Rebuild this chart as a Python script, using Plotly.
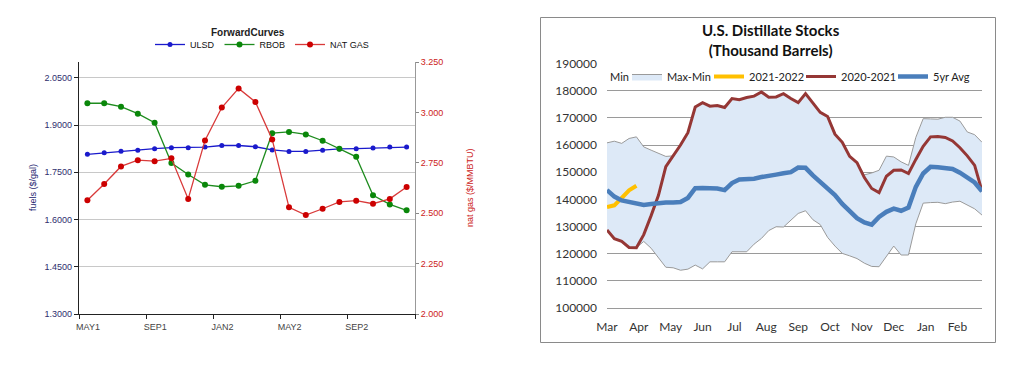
import plotly.graph_objects as go

W, H = 1029, 377
OFF = 8  # page body margin
def px(x): return (x - OFF) / W
def py(y): return 1 - (y - OFF) / H

# ---------------- Left chart data: Forward curves ----------------
months = ["MAY1", "JUN1", "JUL1", "AUG1", "SEP1", "OCT1", "NOV1", "DEC1",
          "JAN2", "FEB2", "MAR2", "APR2", "MAY2", "JUN2", "JUL2", "AUG2",
          "SEP2", "OCT2", "NOV2", "DEC2"]
ulsd = [1.807, 1.812, 1.817, 1.820, 1.825, 1.828, 1.828, 1.830, 1.835, 1.835,
        1.831, 1.821, 1.816, 1.816, 1.820, 1.824, 1.825, 1.827, 1.830, 1.830]
rbob = [1.969, 1.969, 1.958, 1.936, 1.907, 1.779, 1.743, 1.710, 1.704, 1.707,
        1.723, 1.874, 1.878, 1.870, 1.850, 1.825, 1.799, 1.677, 1.648, 1.629]
natgas = [2.564, 2.645, 2.732, 2.763, 2.758, 2.772, 2.571, 2.861, 3.024, 3.119,
          3.052, 2.866, 2.529, 2.491, 2.522, 2.556, 2.562, 2.547, 2.571, 2.630]
left_tick_every = 4

# ---------------- Right chart data: U.S. Distillate Stocks (weekly) ----------------
month_labels = ["Mar", "Apr", "May", "Jun", "Jul", "Aug", "Sep", "Oct", "Nov", "Dec", "Jan", "Feb"]
weeks = list(range(52))
stk_max = [160800, 161400, 160600, 162400, 163000, 159300, 158100, 156800, 155800, 156000,
           160000, 164500, 174000, 175600, 174300, 174500, 173800, 177100, 176700, 177500,
           178000, 179500, 177600, 177700, 178900, 177100, 175600, 178900, 175600, 172000,
           170500, 164000, 161000, 155800, 153500, 149000, 149700, 150700, 155900, 155600,
           153800, 152500, 162800, 169700, 169600, 169500, 170200, 170200, 168800, 164800,
           163800, 161000]
stk_min = [128700, 125500, 124500, 122300, 122200, 124500, 122000, 118700, 115000, 114800,
           113900, 114300, 115800, 114400, 117000, 117000, 117000, 120700, 120700, 120700,
           123500, 125600, 128500, 129900, 129800, 132200, 134800, 135800, 132500, 130700,
           126000, 122800, 120100, 119200, 118200, 116500, 115300, 115200, 119000, 122800,
           119500, 119500, 131000, 138600, 138800, 138900, 138400, 139000, 139300, 138000,
           136500, 134200]
stk_2021 = [128700, 125500, 124500, 122300, 122200, 127000, 134000, 141500, 152000, 156000,
            160000, 164500, 174000, 175600, 174300, 174500, 173800, 177100, 176700, 177500,
            178000, 179500, 177600, 177700, 178900, 177100, 175600, 178900, 175600, 172000,
            170500, 164000, 161000, 155800, 153500, 148000, 144000, 142500, 148500, 150700,
            150800, 149500, 154700, 159500, 163000, 163100, 162800, 161500, 159000, 156000,
            152500, 143000]
stk_avg = [143400, 141000, 139600, 138900, 138500, 137900, 138300, 138700, 138800, 138800,
           139000, 140500, 144100, 144200, 144300, 144000, 143400, 146000, 147300, 147300,
           147600, 148200, 148500, 149100, 149600, 150000, 151700, 151600, 148800, 146300,
           144200, 141600, 138300, 135400, 133100, 131500, 130700, 133500, 135400, 136600,
           135800, 137000, 144600, 149500, 152000, 151800, 151400, 151200, 149800, 148200,
           146200, 143000]
stk_2122 = [137200, 137800, 140500, 143300, 145000]

fig = go.Figure()

# ---------------- Left traces ----------------
xi = list(range(len(months)))
fig.add_trace(go.Scatter(x=xi, y=ulsd, name="ULSD", mode="lines+markers",
                         line=dict(color="#1a1acc", width=1.3),
                         marker=dict(color="#1a1acc", size=5), xaxis="x", yaxis="y",
                         legend="legend"))
fig.add_trace(go.Scatter(x=xi, y=rbob, name="RBOB", mode="lines+markers",
                         line=dict(color="#1e8c1e", width=1.3),
                         marker=dict(color="#0a870a", size=6), xaxis="x", yaxis="y",
                         legend="legend"))
fig.add_trace(go.Scatter(x=xi, y=natgas, name="NAT GAS", mode="lines+markers",
                         line=dict(color="#d93a3a", width=1.3),
                         marker=dict(color="#cc0000", size=6), xaxis="x", yaxis="y2",
                         legend="legend"))

# ---------------- Right traces (each legend entry positioned like the original) ----------------
fig.add_trace(go.Scatter(x=[None], y=[None], name="Min", mode="lines",
                         line=dict(color="rgba(0,0,0,0)", width=1),
                         xaxis="x2", yaxis="y3", legend="legend2"))
fig.add_trace(go.Scatter(x=weeks, y=stk_min, name="Min line", mode="lines",
                         line=dict(color="#9a9a9a", width=1), showlegend=False,
                         xaxis="x2", yaxis="y3"))
fig.add_trace(go.Scatter(x=weeks, y=stk_max, name="Max-Min", mode="lines",
                         line=dict(color="#9a9a9a", width=1), fill="tonexty",
                         fillcolor="#dde9f7", xaxis="x2", yaxis="y3", legend="legend3"))
fig.add_trace(go.Scatter(x=weeks[:len(stk_2122)], y=stk_2122, name="2021-2022", mode="lines",
                         line=dict(color="#ffc000", width=4), xaxis="x2", yaxis="y3",
                         legend="legend4"))
fig.add_trace(go.Scatter(x=weeks, y=stk_2021, name="2020-2021", mode="lines",
                         line=dict(color="#953735", width=3), xaxis="x2", yaxis="y3",
                         legend="legend5"))
fig.add_trace(go.Scatter(x=weeks, y=stk_avg, name="5yr Avg", mode="lines",
                         line=dict(color="#4a7ebb", width=4.5), xaxis="x2", yaxis="y3",
                         legend="legend6"))

arial = "Liberation Sans, Arial, sans-serif"
cal = "Lato, Carlito, sans-serif"

left_tickvals = [i - 0.5 for i in range(0, len(months) + 1, left_tick_every)]
left_ticktext = [months[i] if i < len(months) else "" for i in range(0, len(months) + 1, left_tick_every)]

def rlegend(text_x):
    return dict(orientation="h", x=px(text_x - 41), y=py(62), xanchor="left", yanchor="top",
                font=dict(family=cal, size=11, color="#222"), bgcolor="rgba(0,0,0,0)",
                itemwidth=30, traceorder="normal")

fig.update_layout(
    width=W, height=H, margin=dict(l=0, r=0, t=0, b=0, autoexpand=False),
    paper_bgcolor="white", plot_bgcolor="rgba(0,0,0,0)",
    font=dict(family=arial, size=9, color="#333"),
    xaxis=dict(domain=[px(79), px(415)], range=[-0.5, len(months) - 0.5],
               tickvals=left_tickvals, ticktext=left_ticktext, ticklabelshift=9,
               ticks="outside", ticklen=4, tickcolor="#222", showline=True,
               linecolor="#222", linewidth=1.3, showgrid=False, zeroline=False,
               tickfont=dict(family=arial, size=9, color="#444"), anchor="y"),
    yaxis=dict(domain=[py(314), py(62)], range=[1.3, 2.1], tick0=1.3, dtick=0.15,
               tickformat=".4f", ticks="outside", ticklen=4, tickcolor="#222",
               showline=True, linecolor="#222", linewidth=1.3, gridcolor="#c8c8c8",
               zeroline=False, tickfont=dict(family=arial, size=9, color="#2e2e6e"),
               anchor="x"),
    yaxis2=dict(overlaying="y", side="right", anchor="x", range=[2.0, 3.25], dtick=0.25,
                tick0=2.0, tickformat=".3f", ticks="outside", ticklen=3, tickcolor="#888",
                showline=True, linecolor="#999", showgrid=False, zeroline=False,
                tickfont=dict(family=arial, size=9, color="#cc1a1a")),
    xaxis2=dict(domain=[px(607), px(982)], range=[0, 51], anchor="y3",
                tickvals=[k * 52 / 12 for k in range(12)], ticktext=month_labels,
                ticks="", showline=True, linecolor="#9a9a9a", showgrid=False,
                zeroline=False, ticklabelstandoff=8,
                tickfont=dict(family=cal, size=12, color="#333")),
    yaxis3=dict(domain=[py(308), py(63.5)], range=[100000, 190000], dtick=10000,
                tickformat="d", anchor="x2", showline=False, gridcolor="#9a9a9a",
                zeroline=False, ticks="", ticklabelstandoff=9,
                tickfont=dict(family=cal, size=12, color="#333")),
    legend=dict(orientation="h", x=px(150), y=py(30), xanchor="left", yanchor="top",
                font=dict(family=arial, size=9, color="#111"), bgcolor="rgba(0,0,0,0)",
                itemwidth=30, tracegroupgap=0, traceorder="normal"),
    legend2=rlegend(611),
    legend3=rlegend(668),
    legend4=rlegend(750),
    legend5=rlegend(842),
    legend6=rlegend(934),
    showlegend=True,
)

fig.add_annotation(text="<b>ForwardCurves</b>", x=px(248), y=py(32), xref="paper", yref="paper",
                   xanchor="center", yanchor="middle",
                   showarrow=False, font=dict(family=arial, size=10, color="#222"))
fig.add_annotation(text="fuels ($/gal)", x=px(33), y=py(188), xref="paper", yref="paper",
                   xanchor="center", yanchor="middle",
                   textangle=-90, showarrow=False, font=dict(family=arial, size=9, color="#1e1e70"))
fig.add_annotation(text="nat gas ($/MMBTU)", x=px(470), y=py(188), xref="paper", yref="paper",
                   xanchor="center", yanchor="middle",
                   textangle=-90, showarrow=False, font=dict(family=arial, size=9, color="#cc1a1a"))
fig.add_annotation(text="<b>U.S. Distillate Stocks<br>(Thousand Barrels)</b>", x=px(771), y=py(40),
                   xref="paper", yref="paper", showarrow=False, xanchor="center", yanchor="middle",
                   font=dict(family=cal, size=15, color="#111"))
fig.add_shape(type="rect", xref="paper", yref="paper", x0=px(540.5), x1=px(995.5),
              y0=py(342.5), y1=py(17.5), line=dict(color="#8a8a8a", width=1))

fig.write_html("out.html")
